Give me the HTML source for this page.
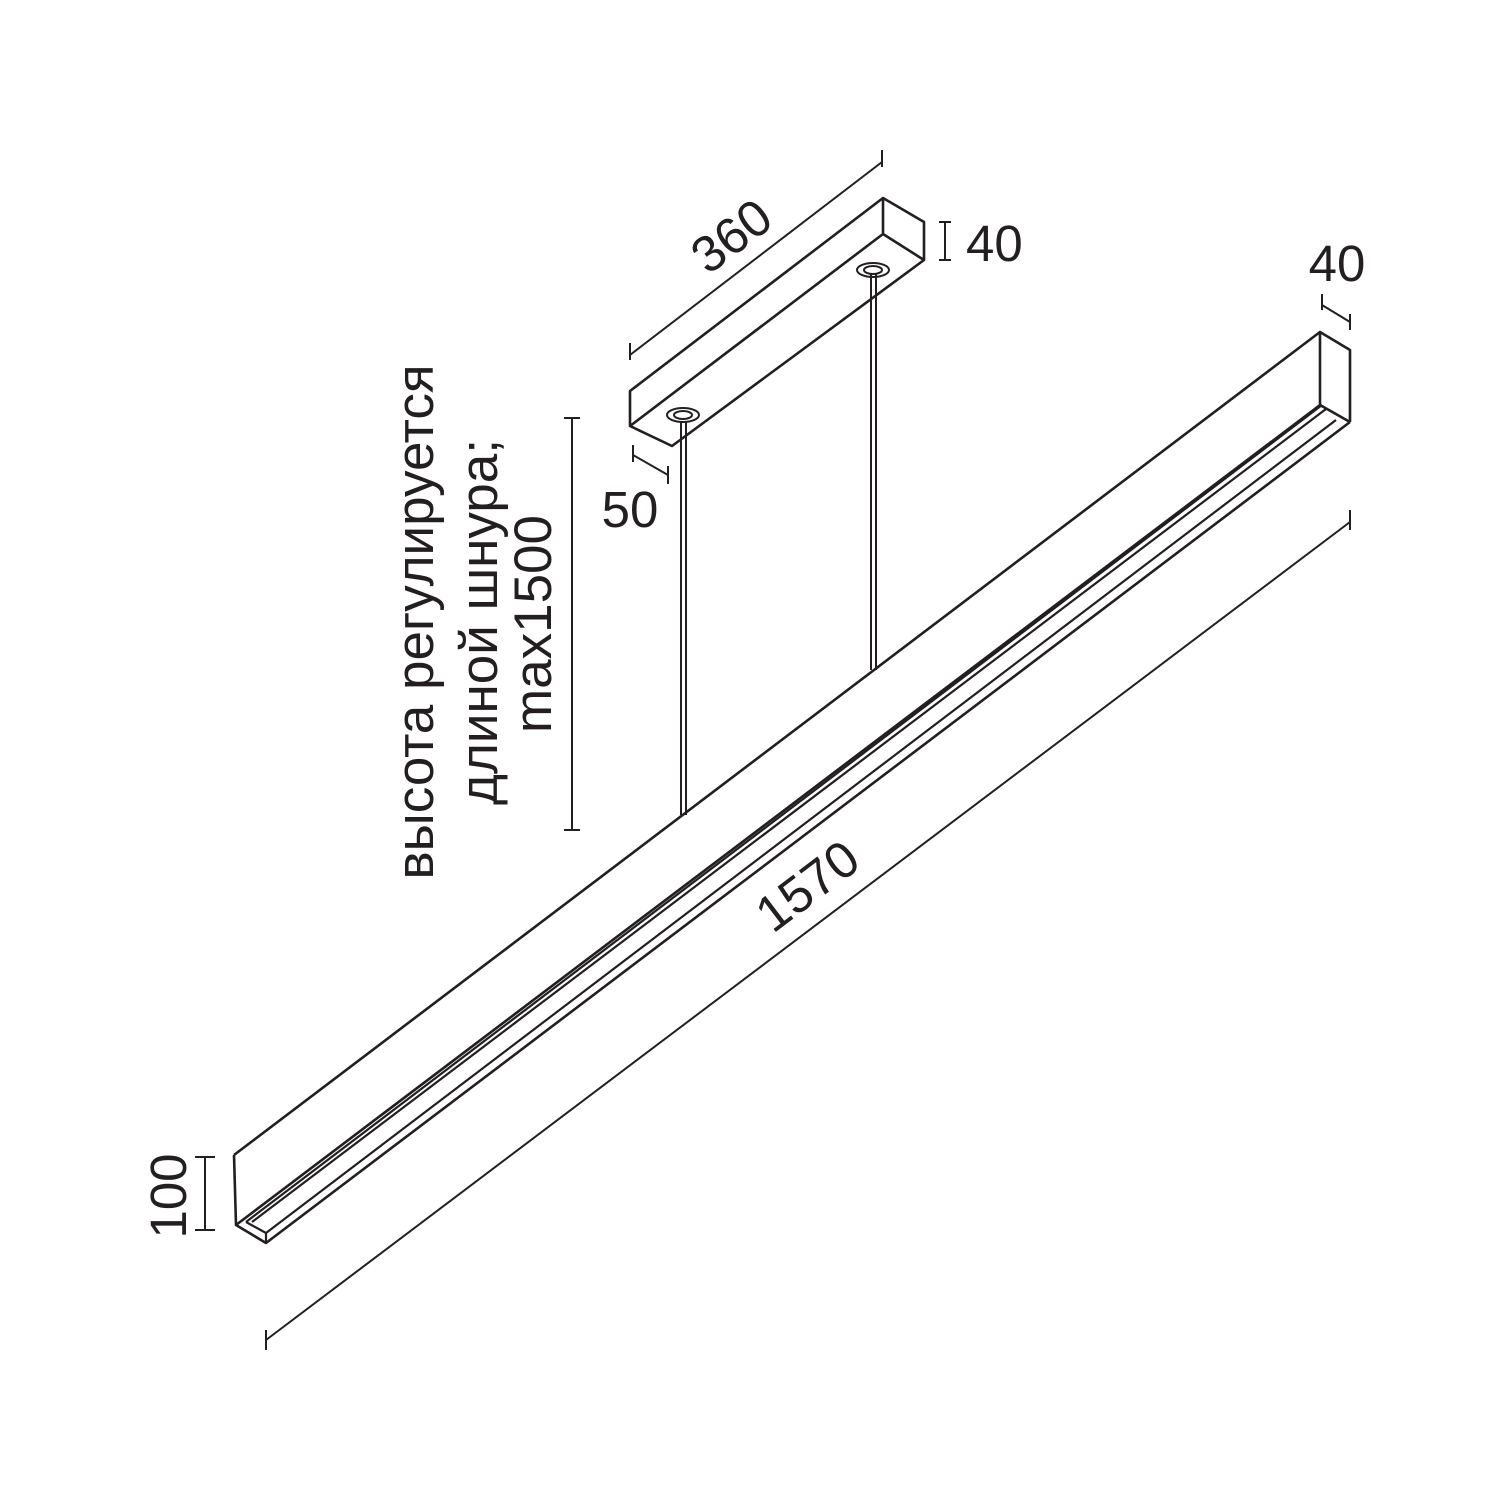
<!DOCTYPE html>
<html><head><meta charset="utf-8"><style>body{margin:0;background:#fff}svg{display:block}</style></head><body>
<svg width="1500" height="1500" viewBox="0 0 1500 1500" xmlns="http://www.w3.org/2000/svg">
<g fill="none" stroke="#231f20" stroke-width="2.6" stroke-linejoin="round">
<path d="M234,1155 L1320,332 L1350,350 L1350,422 M1320,332 L1320,405 L1350,422 M234,1155 L236,1225 L266,1243 L1350,422 M236,1225 L1320,405"/>
<path d="M246,1222 L1322,405 M246,1222 L266,1233 L266,1243 M266,1233 L1336,420 M252,1222 L1326,409" stroke-width="2.2"/>
<path d="M630,391 L883,198 L924,222 L924,260 L672,446 L630,426 Z M883,198 L883,234 L924,260 M630,426 L883,234"/>
<path d="M681,422 L681,815 M686,422 L686,815 M871,274 L871,670 M876,274 L876,670" stroke-width="2"/>
<ellipse cx="683" cy="415" rx="16" ry="7" stroke-width="2"/>
<ellipse cx="683" cy="415" rx="9" ry="4" stroke-width="2"/>
<ellipse cx="873" cy="270" rx="16" ry="7" stroke-width="2"/>
<ellipse cx="873" cy="270" rx="9" ry="4" stroke-width="2"/>
<path d="M630,355 L882,162 M630,343 L630,360 M882,150 L882,167" stroke-width="2"/>
<path d="M945,222 L945,260 M939,222 L951,222 M939,260 L951,260" stroke-width="2"/>
<path d="M1322,305 L1350,322 M1322,294 L1322,310 M1350,314 L1350,330" stroke-width="2"/>
<path d="M633,455 L668,475 M633,445 L633,462 M668,466 L668,484" stroke-width="2"/>
<path d="M572,418 L572,830 M564,418 L580,418 M564,830 L580,830" stroke-width="2"/>
<path d="M266,1340 L1350,522 M266,1330 L266,1350 M1350,510 L1350,530" stroke-width="2"/>
<path d="M205,1157 L205,1230 M195,1157 L215,1157 M195,1230 L215,1230" stroke-width="2"/>
</g>
<g font-family="Liberation Sans, sans-serif" font-size="51" fill="#231f20">
<text transform="translate(742,250) rotate(-37.2)" text-anchor="middle">360</text>
<text x="966" y="261">40</text>
<text x="1337" y="281" text-anchor="middle">40</text>
<text x="630" y="527" text-anchor="middle">50</text>
<text transform="translate(818,900) rotate(-37.2)" text-anchor="middle">1570</text>
<text transform="translate(186,1196) rotate(-90)" text-anchor="middle">100</text>
<text transform="translate(433,622) rotate(-90)" text-anchor="middle" font-size="53">высота регулируется</text>
<text transform="translate(497,622) rotate(-90)" text-anchor="middle" font-size="53">длиной шнура;</text>
<text transform="translate(551,624) rotate(-90)" text-anchor="middle" font-size="53">max1500</text>
</g>
</svg>
</body></html>
